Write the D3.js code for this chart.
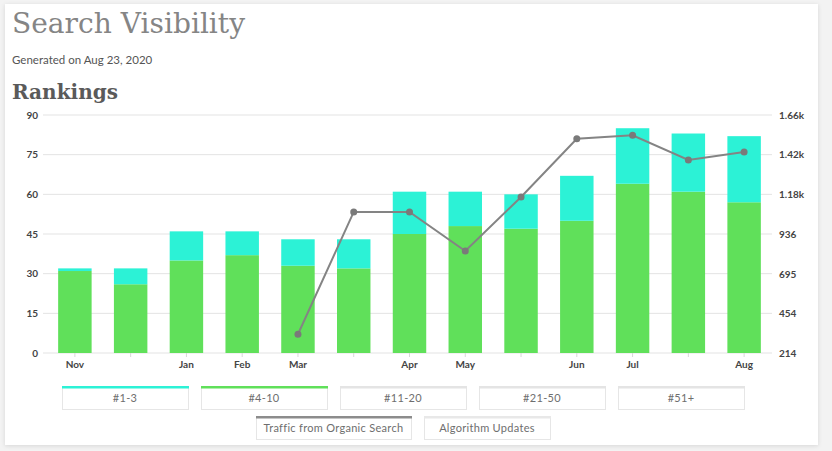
<!DOCTYPE html>
<html>
<head>
<meta charset="utf-8">
<script src="https://cdn.jsdelivr.net/npm/d3@7"></script>
<style>
  html, body { margin: 0; padding: 0; background: #f3f3f3; }
  svg { display: block; }
  .tick text { font-family: Lato, "Open Sans", sans-serif; }
</style>
</head>
<body>
<div id="chart"></div>
<script>
// values
var labels = ["Nov", "", "Jan", "Feb", "Mar", "", "Apr", "May", "", "Jun", "Jul", "", "Aug"];
var top4to10 = [31, 26, 35, 37, 33, 32, 45, 48, 47, 50, 64, 61, 57];
var top1to3 = [1, 6, 11, 9, 10, 11, 16, 13, 13, 17, 21, 22, 25];
var traffic = [null, null, null, null, 328, 1071, 1071, 834, 1162, 1516, 1537, 1387, 1435];
var leftTicks = [0, 15, 30, 45, 60, 75, 90];
var rightTicks = [214, 454, 695, 936, 1180, 1420, 1660];
var rightTickLabels = ["214", "454", "695", "936", "1.18k", "1.42k", "1.66k"];
var legendRow1 = ["#1-3", "#4-10", "#11-20", "#21-50", "#51+"];
var legendRow2 = ["Traffic from Organic Search", "Algorithm Updates"];

var W = 832, H = 451;
var cyan = "#2cf2d6", green = "#60e05a", lineCol = "#848484";

var svg = d3.select("#chart").append("svg")
  .attr("width", W).attr("height", H);

var defs = svg.append("defs");
var f = defs.append("filter").attr("id", "shadow")
  .attr("x", "-5%").attr("y", "-5%").attr("width", "110%").attr("height", "110%");
f.append("feDropShadow").attr("dx", 0).attr("dy", 1).attr("stdDeviation", 2)
  .attr("flood-color", "#000").attr("flood-opacity", 0.12);

// card
svg.append("rect")
  .attr("x", 5).attr("y", 4).attr("width", 813).attr("height", 441)
  .attr("fill", "#fff").attr("filter", "url(#shadow)");

// header texts
svg.append("text")
  .attr("x", 12).attr("y", 33)
  .attr("textLength", 233).attr("lengthAdjust", "spacingAndGlyphs")
  .style("font-family", "'DejaVu Serif', serif")
  .style("font-size", "27px").style("font-weight", 300)
  .attr("fill", "#858585")
  .text("Search Visibility");

svg.append("text")
  .attr("x", 12).attr("y", 64)
  .style("font-family", "Lato, sans-serif").style("font-size", "11.5px")
  .attr("fill", "#555")
  .text("Generated on Aug 23, 2020");

svg.append("text")
  .attr("x", 12).attr("y", 99)
  .attr("textLength", 106).attr("lengthAdjust", "spacingAndGlyphs")
  .style("font-family", "'DejaVu Serif', serif")
  .style("font-size", "20px").style("font-weight", "bold")
  .attr("fill", "#5a5a5a")
  .text("Rankings");

// scales
var x = d3.scaleBand().domain(d3.range(labels.length))
  .range([47, 772]).paddingInner(0.4).paddingOuter(0.2);
var y = d3.scaleLinear().domain([0, 90]).range([353, 115]);
var y2 = d3.scaleLinear().domain([214, 1660]).range([353, 115]);

// grid
svg.append("g").selectAll("line")
  .data(leftTicks).enter().append("line")
  .attr("x1", 43).attr("x2", 772)
  .attr("y1", function(d) { return y(d); })
  .attr("y2", function(d) { return y(d); })
  .attr("stroke", "#e3e3e3").attr("stroke-width", 1);

// left axis
var yAxis = d3.axisLeft(y).tickValues(leftTicks).tickSize(0).tickPadding(5);
var gy = svg.append("g").attr("transform", "translate(43,0)").call(yAxis);
gy.select(".domain").remove();
gy.selectAll("text").attr("fill", "#444").style("font-size", "10px").style("font-weight", "bold");

// right axis
var yAxis2 = d3.axisRight(y2).tickValues(rightTicks).tickSize(0).tickPadding(7)
  .tickFormat(function(d, i) { return rightTickLabels[i]; });
var gy2 = svg.append("g").attr("transform", "translate(772,0)").call(yAxis2);
gy2.select(".domain").remove();
gy2.selectAll("text").attr("fill", "#444").style("font-size", "10px").style("font-weight", "bold");

// x axis
var xAxis = d3.axisBottom(x).tickSize(4).tickPadding(4)
  .tickFormat(function(d) { return labels[d]; });
var gx = svg.append("g").attr("transform", "translate(0,353)").call(xAxis);
gx.select(".domain").remove();
gx.selectAll(".tick line").attr("stroke", "#d8d8d8");
gx.selectAll("text").attr("fill", "#444").style("font-size", "10px").style("font-weight", "bold");

// bars
svg.append("g").selectAll("rect")
  .data(top4to10).enter().append("rect")
  .attr("x", function(d, i) { return x(i); })
  .attr("width", x.bandwidth())
  .attr("y", function(d) { return y(d); })
  .attr("height", function(d) { return y(0) - y(d); })
  .attr("fill", green);

svg.append("g").selectAll("rect")
  .data(top1to3).enter().append("rect")
  .attr("x", function(d, i) { return x(i); })
  .attr("width", x.bandwidth())
  .attr("y", function(d, i) { return y(top4to10[i] + d); })
  .attr("height", function(d, i) { return y(top4to10[i]) - y(top4to10[i] + d); })
  .attr("fill", cyan);

// traffic line
var pts = traffic.map(function(v, i) { return {i: i, v: v}; })
  .filter(function(d) { return d.v !== null; });
var line = d3.line()
  .x(function(d) { return x(d.i) + x.bandwidth() / 2; })
  .y(function(d) { return y2(d.v); });
svg.append("path").datum(pts)
  .attr("d", line).attr("fill", "none")
  .attr("stroke", lineCol).attr("stroke-width", 2);
svg.append("g").selectAll("circle")
  .data(pts).enter().append("circle")
  .attr("cx", function(d) { return x(d.i) + x.bandwidth() / 2; })
  .attr("cy", function(d) { return y2(d.v); })
  .attr("r", 3.5).attr("fill", "#7a7a7a");

// legend
var row1Colors = [cyan, green, "#e4e4e4", "#e4e4e4", "#e4e4e4"];
var row2Colors = ["#8c8c8c", "#e8e8e8"];

function legendBox(g, label, color, lx, ly, lw, lh) {
  g.append("rect").attr("x", lx + 0.5).attr("y", ly + 0.5)
    .attr("width", lw).attr("height", lh)
    .attr("fill", "#fff").attr("stroke", "#e6e6e6");
  g.append("rect").attr("x", lx).attr("y", ly - 1)
    .attr("width", lw + 1).attr("height", 2.5).attr("fill", color);
  g.append("text").attr("x", lx + lw / 2).attr("y", ly + lh / 2 + 4)
    .attr("text-anchor", "middle")
    .style("font-family", "Lato, sans-serif").style("font-size", "11px")
    .style("letter-spacing", "0.3px")
    .attr("fill", "#6e6e6e")
    .text(label);
}

var lg = svg.append("g");
legendRow1.forEach(function(l, i) {
  legendBox(lg, l, row1Colors[i], 62 + i * 139, 387, 126, 22);
});
var row2X = [256, 424], row2W = [155, 126];
legendRow2.forEach(function(l, i) {
  legendBox(lg, l, row2Colors[i], row2X[i], 417, row2W[i], 22);
});
</script>
</body>
</html>
